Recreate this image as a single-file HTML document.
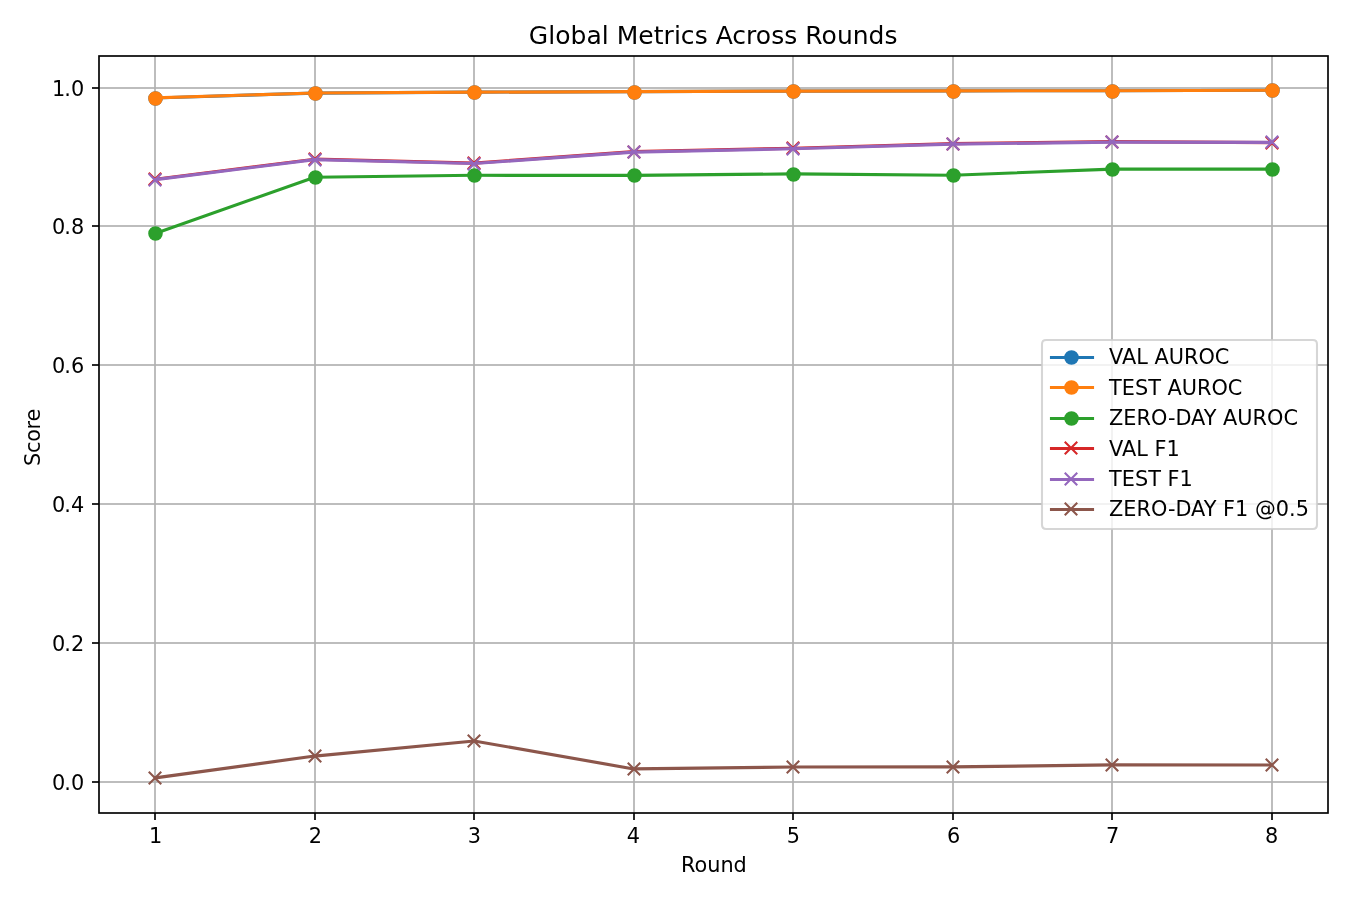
<!DOCTYPE html>
<html lang="en">
<head>
<meta charset="utf-8">
<title>Global Metrics Across Rounds</title>
<style>
html,body{margin:0;padding:0;background:#ffffff;}
body{width:1350px;height:900px;overflow:hidden;}
svg{display:block;will-change:transform;}
svg text{font-family:"DejaVu Sans","Liberation Sans",sans-serif;fill:#000000;font-kerning:normal;}
.tick{font-size:20.8333px;}
.title{font-size:25px;}
.grid rect{fill:#b0b0b0;}
.axis rect{fill:#000000;}
.axis rect.spine{fill:none;stroke:#000000;stroke-linejoin:miter;}
.series polyline{fill:none;stroke-width:3.1250;stroke-linejoin:round;stroke-linecap:square;}
.mx{fill:none;stroke-width:2.0833;stroke-linecap:butt;}
.mo{stroke-width:2.0833;}
</style>
</head>
<body>
<svg width="1350" height="900" viewBox="0 0 1350 900">
<defs>
<clipPath id="axclip"><rect x="99.32" y="55.90" width="1228.21" height="756.80"/></clipPath>
</defs>
<rect x="0" y="0" width="1350" height="900" fill="#ffffff"/>
<g class="grid" clip-path="url(#axclip)">
<rect x="154.1667" y="56.0" width="1.6667" height="757.0"/>
<rect x="314.1667" y="56.0" width="1.6667" height="757.0"/>
<rect x="473.1667" y="56.0" width="1.6667" height="757.0"/>
<rect x="633.1667" y="56.0" width="1.6667" height="757.0"/>
<rect x="792.1667" y="56.0" width="1.6667" height="757.0"/>
<rect x="952.1667" y="56.0" width="1.6667" height="757.0"/>
<rect x="1111.1666" y="56.0" width="1.6667" height="757.0"/>
<rect x="1271.1666" y="56.0" width="1.6667" height="757.0"/>
<rect x="99.0" y="87.1667" width="1229.0" height="1.6667"/>
<rect x="99.0" y="225.1667" width="1229.0" height="1.6667"/>
<rect x="99.0" y="364.1667" width="1229.0" height="1.6667"/>
<rect x="99.0" y="503.1667" width="1229.0" height="1.6667"/>
<rect x="99.0" y="642.1667" width="1229.0" height="1.6667"/>
<rect x="99.0" y="781.1667" width="1229.0" height="1.6667"/>
</g>
<g class="series" clip-path="url(#axclip)">
<g stroke="#1f77b4" fill="#1f77b4">
<polyline points="155.15,97.95 314.66,93.08 474.16,92.18 633.67,91.63 793.18,91.07 952.69,90.86 1112.19,90.72 1271.70,90.31"/>
<circle class="mo" cx="155.50" cy="98.50" r="6.250"/>
<circle class="mo" cx="315.50" cy="93.50" r="6.250"/>
<circle class="mo" cx="474.50" cy="92.50" r="6.250"/>
<circle class="mo" cx="634.50" cy="92.50" r="6.250"/>
<circle class="mo" cx="793.50" cy="91.50" r="6.250"/>
<circle class="mo" cx="953.50" cy="91.50" r="6.250"/>
<circle class="mo" cx="1112.50" cy="91.50" r="6.250"/>
<circle class="mo" cx="1272.50" cy="90.50" r="6.250"/>
</g>
<g stroke="#ff7f0e" fill="#ff7f0e">
<polyline points="155.15,97.88 314.66,93.02 474.16,92.18 633.67,91.63 793.18,91.07 952.69,90.86 1112.19,90.72 1271.70,90.31"/>
<circle class="mo" cx="155.50" cy="98.50" r="6.250"/>
<circle class="mo" cx="315.50" cy="93.50" r="6.250"/>
<circle class="mo" cx="474.50" cy="92.50" r="6.250"/>
<circle class="mo" cx="634.50" cy="92.50" r="6.250"/>
<circle class="mo" cx="793.50" cy="91.50" r="6.250"/>
<circle class="mo" cx="953.50" cy="91.50" r="6.250"/>
<circle class="mo" cx="1112.50" cy="91.50" r="6.250"/>
<circle class="mo" cx="1272.50" cy="90.50" r="6.250"/>
</g>
<g stroke="#2ca02c" fill="#2ca02c">
<polyline points="155.15,233.47 314.66,177.30 474.16,175.29 633.67,175.43 793.18,173.90 952.69,175.22 1112.19,169.11 1271.70,169.11"/>
<circle class="mo" cx="155.50" cy="233.50" r="6.250"/>
<circle class="mo" cx="315.50" cy="177.50" r="6.250"/>
<circle class="mo" cx="474.50" cy="175.50" r="6.250"/>
<circle class="mo" cx="634.50" cy="175.50" r="6.250"/>
<circle class="mo" cx="793.50" cy="174.50" r="6.250"/>
<circle class="mo" cx="953.50" cy="175.50" r="6.250"/>
<circle class="mo" cx="1112.50" cy="169.50" r="6.250"/>
<circle class="mo" cx="1272.50" cy="169.50" r="6.250"/>
</g>
<g stroke="#d62728" fill="#d62728">
<polyline points="155.15,179.18 314.66,159.18 474.16,163.07 633.67,151.61 793.18,148.21 952.69,143.63 1112.19,141.62 1271.70,142.59"/>
<path class="mx" d="M148.75 172.75 L161.25 185.25 M148.75 185.25 L161.25 172.75"/>
<path class="mx" d="M308.75 152.75 L321.25 165.25 M308.75 165.25 L321.25 152.75"/>
<path class="mx" d="M467.75 156.75 L480.25 169.25 M467.75 169.25 L480.25 156.75"/>
<path class="mx" d="M627.75 145.75 L640.25 158.25 M627.75 158.25 L640.25 145.75"/>
<path class="mx" d="M786.75 141.75 L799.25 154.25 M786.75 154.25 L799.25 141.75"/>
<path class="mx" d="M946.75 137.75 L959.25 150.25 M946.75 150.25 L959.25 137.75"/>
<path class="mx" d="M1105.75 135.75 L1118.25 148.25 M1105.75 148.25 L1118.25 135.75"/>
<path class="mx" d="M1265.75 136.75 L1278.25 149.25 M1265.75 149.25 L1278.25 136.75"/>
</g>
<g stroke="#9467bd" fill="#9467bd">
<polyline points="155.15,179.66 314.66,159.67 474.16,163.56 633.67,152.10 793.18,148.70 952.69,144.12 1112.19,142.10 1271.70,142.38"/>
<path class="mx" d="M148.75 173.75 L161.25 186.25 M148.75 186.25 L161.25 173.75"/>
<path class="mx" d="M308.75 153.75 L321.25 166.25 M308.75 166.25 L321.25 153.75"/>
<path class="mx" d="M467.75 157.75 L480.25 170.25 M467.75 170.25 L480.25 157.75"/>
<path class="mx" d="M627.75 145.75 L640.25 158.25 M627.75 158.25 L640.25 145.75"/>
<path class="mx" d="M786.75 142.75 L799.25 155.25 M786.75 155.25 L799.25 142.75"/>
<path class="mx" d="M946.75 137.75 L959.25 150.25 M946.75 150.25 L959.25 137.75"/>
<path class="mx" d="M1105.75 135.75 L1118.25 148.25 M1105.75 148.25 L1118.25 135.75"/>
<path class="mx" d="M1265.75 135.75 L1278.25 148.25 M1265.75 148.25 L1278.25 135.75"/>
</g>
<g stroke="#8c564b" fill="#8c564b">
<polyline points="155.15,777.87 314.66,756.07 474.16,741.01 633.67,768.92 793.18,766.97 952.69,766.90 1112.19,764.89 1271.70,765.03"/>
<path class="mx" d="M148.75 771.75 L161.25 784.25 M148.75 784.25 L161.25 771.75"/>
<path class="mx" d="M308.75 749.75 L321.25 762.25 M308.75 762.25 L321.25 749.75"/>
<path class="mx" d="M467.75 734.75 L480.25 747.25 M467.75 747.25 L480.25 734.75"/>
<path class="mx" d="M627.75 762.75 L640.25 775.25 M627.75 775.25 L640.25 762.75"/>
<path class="mx" d="M786.75 760.75 L799.25 773.25 M786.75 773.25 L799.25 760.75"/>
<path class="mx" d="M946.75 760.75 L959.25 773.25 M946.75 773.25 L959.25 760.75"/>
<path class="mx" d="M1105.75 758.75 L1118.25 771.25 M1105.75 771.25 L1118.25 758.75"/>
<path class="mx" d="M1265.75 758.75 L1278.25 771.25 M1265.75 771.25 L1278.25 758.75"/>
</g>
</g>
<g class="axis">
<rect x="154.1667" y="813.0" width="1.6667" height="7.0"/>
<rect x="314.1667" y="813.0" width="1.6667" height="7.0"/>
<rect x="473.1667" y="813.0" width="1.6667" height="7.0"/>
<rect x="633.1667" y="813.0" width="1.6667" height="7.0"/>
<rect x="792.1667" y="813.0" width="1.6667" height="7.0"/>
<rect x="952.1667" y="813.0" width="1.6667" height="7.0"/>
<rect x="1111.1666" y="813.0" width="1.6667" height="7.0"/>
<rect x="1271.1666" y="813.0" width="1.6667" height="7.0"/>
<rect x="92.0" y="87.1667" width="7.0" height="1.6667"/>
<rect x="92.0" y="225.1667" width="7.0" height="1.6667"/>
<rect x="92.0" y="364.1667" width="7.0" height="1.6667"/>
<rect x="92.0" y="503.1667" width="7.0" height="1.6667"/>
<rect x="92.0" y="642.1667" width="7.0" height="1.6667"/>
<rect x="92.0" y="781.1667" width="7.0" height="1.6667"/>
<rect x="99.0" y="56.0" width="1229.0" height="757.0" class="spine" stroke-width="1.6667"/>
</g>
<g class="tick">
<text x="155.68" y="843.00" text-anchor="middle">1</text>
<text x="315.31" y="843.00" text-anchor="middle">2</text>
<text x="474.35" y="843.00" text-anchor="middle">3</text>
<text x="633.47" y="843.00" text-anchor="middle">4</text>
<text x="793.40" y="843.00" text-anchor="middle">5</text>
<text x="953.72" y="843.00" text-anchor="middle">6</text>
<text x="1112.59" y="843.00" text-anchor="middle">7</text>
<text x="1271.51" y="843.00" text-anchor="middle">8</text>
<text x="51.98" y="96.00" dx="0 -0.90 0">1.0</text>
<text x="51.98" y="234.00" dx="0 -0.90 0">0.8</text>
<text x="51.98" y="373.00" dx="0 -0.90 0">0.6</text>
<text x="51.98" y="512.00" dx="0 -0.90 0">0.4</text>
<text x="51.98" y="651.00" dx="0 -0.90 0">0.2</text>
<text x="51.98" y="790.00" dx="0 -0.90 0">0.0</text>
<text x="713.90" y="872.00" text-anchor="middle">Round</text>
<text transform="translate(39.50 437.50) rotate(-90)" text-anchor="middle" letter-spacing="-0.250">Score</text>
</g>
<text class="title" x="528.85" y="44.00" letter-spacing="0.028">Global Metrics Across Rounds</text>
<g class="legend">
<path d="M1046.17 529.00 Q1042.00 529.00 1042.00 524.83 L1042.00 344.17 Q1042.00 340.00 1046.17 340.00 L1312.83 340.00 Q1317.00 340.00 1317.00 344.17 L1317.00 524.83 Q1317.00 529.00 1312.83 529.00 Z" fill="#ffffff" fill-opacity="0.8" stroke="#cccccc" stroke-opacity="0.8" stroke-width="2.0833" stroke-linejoin="miter"/>
<g stroke="#1f77b4" fill="#1f77b4">
<line x1="1051.50" y1="357.50" x2="1092.50" y2="357.50" stroke-width="3.1250" stroke-linecap="square"/>
<circle class="mo" cx="1071.50" cy="357.50" r="6.250"/>
</g>
<text class="tick" x="1109.05" y="364.00">VAL AUROC</text>
<g stroke="#ff7f0e" fill="#ff7f0e">
<line x1="1051.50" y1="387.50" x2="1092.50" y2="387.50" stroke-width="3.1250" stroke-linecap="square"/>
<circle class="mo" cx="1071.50" cy="387.50" r="6.250"/>
</g>
<text class="tick" x="1109.05" y="395.00">TEST AUROC</text>
<g stroke="#2ca02c" fill="#2ca02c">
<line x1="1051.50" y1="418.50" x2="1092.50" y2="418.50" stroke-width="3.1250" stroke-linecap="square"/>
<circle class="mo" cx="1071.50" cy="418.50" r="6.250"/>
</g>
<text class="tick" x="1109.05" y="425.00">ZERO-DAY AUROC</text>
<g stroke="#d62728" fill="#d62728">
<line x1="1051.50" y1="448.50" x2="1092.50" y2="448.50" stroke-width="3.1250" stroke-linecap="square"/>
<path class="mx" d="M1064.75 441.75 L1077.25 454.25 M1064.75 454.25 L1077.25 441.75"/>
</g>
<text class="tick" x="1109.05" y="456.00">VAL F1</text>
<g stroke="#9467bd" fill="#9467bd">
<line x1="1051.50" y1="479.50" x2="1092.50" y2="479.50" stroke-width="3.1250" stroke-linecap="square"/>
<path class="mx" d="M1064.75 472.75 L1077.25 485.25 M1064.75 485.25 L1077.25 472.75"/>
</g>
<text class="tick" x="1109.05" y="486.00">TEST F1</text>
<g stroke="#8c564b" fill="#8c564b">
<line x1="1051.50" y1="509.50" x2="1092.50" y2="509.50" stroke-width="3.1250" stroke-linecap="square"/>
<path class="mx" d="M1064.75 502.75 L1077.25 515.25 M1064.75 515.25 L1077.25 502.75"/>
</g>
<text class="tick" x="1109.05" y="516.00">ZERO-DAY F1 @0.5</text>
</g>
</svg>
</body>
</html>
